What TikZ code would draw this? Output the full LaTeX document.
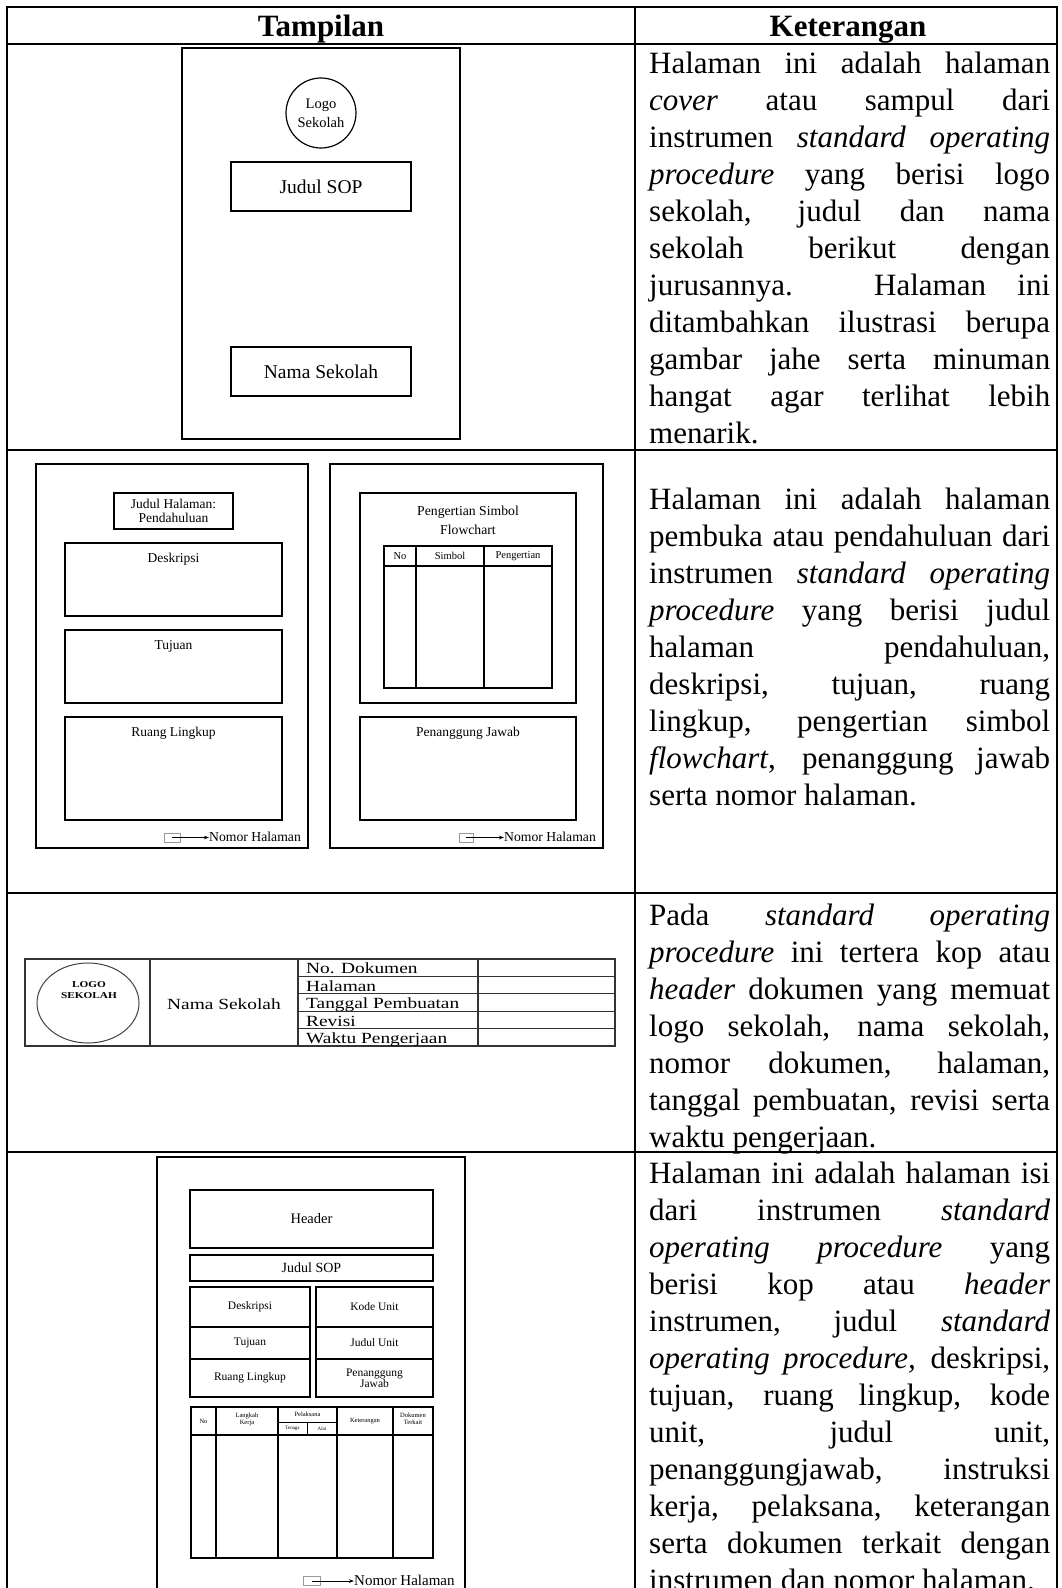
\documentclass[tikz,border=0pt]{standalone}
\usepackage{fontspec}
\setmainfont{Liberation Serif}
\newfontfamily\kopfont[FakeStretch=1.25]{Liberation Serif}
\usetikzlibrary{arrows.meta,positioning,shapes.geometric}
\hyphenpenalty=10000
\exhyphenpenalty=10000

\tikzset{
  garis/.style={line width=2.6pt},
  lembar/.style={line width=1.6pt},
  kotak/.style={draw, line width=1.5pt, inner sep=0pt},
  tipis/.style={line width=1.1pt, black!80},
  judulkol/.style={anchor=base, inner sep=0pt, font=\bfseries\fontsize{31}{37}\selectfont},
  ket/.style={anchor=base west, inner sep=0pt, text width=401pt, align=justify,
    font=\fontsize{31}{37}\selectfont},
  tulis/.style 2 args={inner sep=0pt, align=center, font=\fontsize{#1}{#2}\selectfont},
  hal/.style={anchor=west, inner sep=0pt, font=\fontsize{#1}{#1}\selectfont},
  penanda/.style={draw=black!40, line width=0.8pt, minimum width=#1, minimum height=9pt, inner sep=0pt},
  panah/.style={-{Stealth[length=5pt,width=3.5pt]}, line width=0.8pt}
}

\begin{document}
\begin{tikzpicture}[x=1pt, y=-1pt]
\useasboundingbox (0,0) rectangle (1061,1588);
% kerangka tabel
\draw[garis] (7,1588) -- (7,7) -- (1057,7) -- (1057,1588);
\draw[garis] (635,7) -- (635,1588);
\foreach \y in {44,450,893,1152}
  \draw[garis] (7,\y) -- (1057,\y);
\node[judulkol] (tampilan) at (321,36) {Tampilan};
\node[judulkol] (keterangan) at (848,36) {Keterangan};

% halaman sampul
\draw[lembar] (182,48) rectangle (460,439);
\node[circle, draw, line width=1.2pt, minimum size=70pt, tulis={14.5}{19}] (logo) at (321,113) {Logo\\Sekolah};
\node[kotak, minimum width=180, minimum height=49, tulis={19.5}{22}] (judul) at (321,186.5) {Judul SOP};
\node[kotak, minimum width=180, minimum height=49, tulis={19.5}{22}] (nama) at (321,371.5) {Nama Sekolah};

% halaman pendahuluan
\draw[lembar] (36,464) rectangle (308,848);
\node[kotak, minimum width=119, minimum height=36, tulis={13.5}{14.5}] (jdlhal) at (173.5,511) {Judul Halaman:\\Pendahuluan};
\foreach \t/\ya/\yb [count=\i] in {Deskripsi/543/616, Tujuan/630/703, Ruang Lingkup/717/820} {
  \draw[kotak] (65,\ya) rectangle (282,\yb);
  \node[tulis={13.5}{15}] (isi\i) at (173.5,\ya+16) {\t};
}
\node[penanda=16] (kecil1) at (172,837.5) {};
\node[hal=13.7] (nomor1) at (209,837) {Nomor Halaman};
\draw[panah] (kecil1.center) -- (kecil1.center -| nomor1.west);

\draw[lembar] (330,464) rectangle (603,848);
\draw[kotak] (360,493) rectangle (576,703);
\node[tulis={13.7}{19}] (simbol) at (468,520.5) {Pengertian Simbol\\Flowchart};
\draw[kotak] (384,546) rectangle (552,688);
\draw[kotak] (384,566) -- (552,566) (416,546) -- (416,688) (484,546) -- (484,688);
\foreach \t/\x [count=\i] in {No/400, Simbol/450, Pengertian/518}
  \node[tulis={10.5}{12}] (kol\i) at (\x,556) {\t};
\draw[kotak] (360,717) rectangle (576,820);
\node[tulis={13.5}{15}] (pj) at (468,733) {Penanggung Jawab};
\node[penanda=14] (kecil2) at (466,837.5) {};
\node[hal=13.7] (nomor2) at (504,837) {Nomor Halaman};
\draw[panah] (kecil2.center) -- (kecil2.center -| nomor2.west);

% kop dokumen
\draw[tipis] (25,959) rectangle (615,1046);
\foreach \x in {150,298,478}
  \draw[tipis] (\x,959) -- (\x,1046);
\foreach \i in {1,...,4}
  \draw[tipis] (298,959+17.4*\i) -- (615,959+17.4*\i);
\node[ellipse, draw=black!75, line width=1pt, minimum width=102, minimum height=80, inner sep=0pt] (logokop) at (88,1003) {};
\node[inner sep=0pt, align=center, font=\kopfont\bfseries\fontsize{9}{11}\selectfont] (logotxt) at (89,990.5) {LOGO\\SEKOLAH};
\node[inner sep=0pt, font=\kopfont\fontsize{15.5}{17}\selectfont] (namakop) at (224,1004) {Nama Sekolah};
\foreach \t [count=\i] in {No. Dokumen, Halaman, Tanggal Pembuatan, Revisi, Waktu Pengerjaan} {
  \pgfmathsetmacro\yb{959+17.4*\i}
  \node[anchor=base west, inner sep=0pt, font=\kopfont\fontsize{15.5}{17}\selectfont] (kop\i) at (306,\yb-2.5) {\t};
}

% halaman isi
\draw[lembar] (157,1588) -- (157,1157) -- (465,1157) -- (465,1588);
\node[kotak, minimum width=243, minimum height=58, tulis={14.5}{16}] (header) at (311.5,1219) {Header};
\node[kotak, minimum width=243, minimum height=26, tulis={14}{16}] (judulsop) at (311.5,1268) {Judul SOP};
\foreach \t/\y/\h [count=\i] in {Deskripsi/1307/40, Tujuan/1343/32, Ruang Lingkup/1378/38}
  \node[kotak, minimum width=120, minimum height=\h, tulis={11.5}{12.5}] (kiri\i) at (250,\y) {\t};
\foreach \t/\y/\h [count=\i] in {Kode Unit/1307/40, Judul Unit/1343/32, {Penanggung\\Jawab}/1378/38}
  \node[kotak, minimum width=117, minimum height=\h, tulis={11.5}{11}] (kanan\i) at (374.5,\y) {\t};
\draw[kotak] (191,1407) rectangle (433,1558);
\draw[kotak] (191,1435) -- (433,1435);
\foreach \x in {216,278,337,393}
  \draw[kotak] (\x,1407) -- (\x,1558);
\draw[line width=1pt] (278,1422) -- (337,1422) (307,1422) -- (307,1435);
\node[tulis={6.5}{7}] (no) at (203.5,1421) {No};
\node[tulis={6.5}{7}] (langkah) at (247,1419) {Langkah\\Kerja};
\node[tulis={6.5}{7}] (pelaksana) at (307.5,1414.5) {Pelaksana};
\node[tulis={5}{6}] (tenaga) at (292.5,1428.5) {Tenaga};
\node[tulis={5}{6}] (alat) at (322,1428.5) {Alat};
\node[tulis={6.5}{7}] (ketkol) at (365,1421) {Keterangan};
\node[tulis={6.5}{7}] (dokumen) at (413,1419) {Dokumen\\Terkait};
\node[penanda=17] (kecil3) at (311.5,1581) {};
\node[hal=15] (nomor3) at (354,1580) {Nomor Halaman};
\draw[panah] (kecil3.center) -- (kecil3.center -| nomor3.west);

% keterangan
\node[ket] (ket1) at (649,73) {Halaman ini adalah halaman\linebreak
  \emph{cover} atau sampul dari\linebreak
  instrumen \emph{standard operating}\linebreak
  \emph{procedure} yang berisi logo\linebreak
  sekolah, judul dan nama\linebreak
  sekolah berikut dengan\linebreak
  jurusannya. Halaman ini\linebreak
  ditambahkan ilustrasi berupa\linebreak
  gambar jahe serta minuman\linebreak
  hangat agar terlihat lebih\linebreak
  menarik.};
\node[ket] (ket2) at (649,509) {Halaman ini adalah halaman\linebreak
  pembuka atau pendahuluan dari\linebreak
  instrumen \emph{standard operating}\linebreak
  \emph{procedure} yang berisi judul\linebreak
  halaman pendahuluan,\linebreak
  deskripsi, tujuan, ruang\linebreak
  lingkup, pengertian simbol\linebreak
  \emph{flowchart}, penanggung jawab\linebreak
  serta nomor halaman.};
\node[ket] (ket3) at (649,925) {Pada \emph{standard operating}\linebreak
  \emph{procedure} ini tertera kop atau\linebreak
  \emph{header} dokumen yang memuat\linebreak
  logo sekolah, nama sekolah,\linebreak
  nomor dokumen, halaman,\linebreak
  tanggal pembuatan, revisi serta\linebreak
  waktu pengerjaan.};
\node[ket] (ket4) at (649,1183) {Halaman ini adalah halaman isi\linebreak
  dari instrumen \emph{standard}\linebreak
  \emph{operating procedure} yang\linebreak
  berisi kop atau \emph{header}\linebreak
  instrumen, judul \emph{standard}\linebreak
  \emph{operating procedure,} deskripsi,\linebreak
  tujuan, ruang lingkup, kode\linebreak
  unit, judul unit,\linebreak
  penanggungjawab, instruksi\linebreak
  kerja, pelaksana, keterangan\linebreak
  serta dokumen terkait dengan\linebreak
  instrumen dan nomor halaman.};
\end{tikzpicture}
\end{document}
